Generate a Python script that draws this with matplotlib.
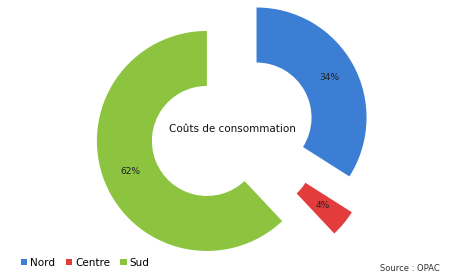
import matplotlib.pyplot as plt

regions = ['Nord', 'Centre', 'Sud']
shares = [34, 4, 62]
colors = ['#3b7ed3', '#e23c3c', '#8cc43f']

fig = plt.figure(figsize=(4.56, 2.77), dpi=100)
ax = fig.add_axes([0, 0, 1, 1])

# explode offsets are in data units here (radius = 110)
wedges, texts, autotexts = ax.pie(
    shares, colors=colors, explode=[28, 35, 27], startangle=90, counterclock=False,
    center=(232, 146), radius=110, frame=True,
    autopct=lambda p: '%d%%' % round(p), pctdistance=0.75,
    wedgeprops=dict(width=55, edgecolor='none'),
    textprops=dict(fontsize=6.5, color='#222222'))
ax.set_xlim(0, 456)
ax.set_ylim(0, 277)
ax.set_aspect('equal')
ax.axis('off')

ax.text(232, 148, 'Coûts de consommation', ha='center', va='center',
        fontsize=7.5, color='#111111')

fig.legend(wedges, regions, loc='lower left', bbox_to_anchor=(0.025, 0.0),
           ncol=3, frameon=False, fontsize=7.5, handlelength=0.6,
           handleheight=0.6, handletextpad=0.3, columnspacing=1.0)

fig.text(0.965, 0.015, 'Source : OPAC', ha='right', va='bottom',
         fontsize=6, color='#333333')

fig.savefig('out.png', dpi=100)
